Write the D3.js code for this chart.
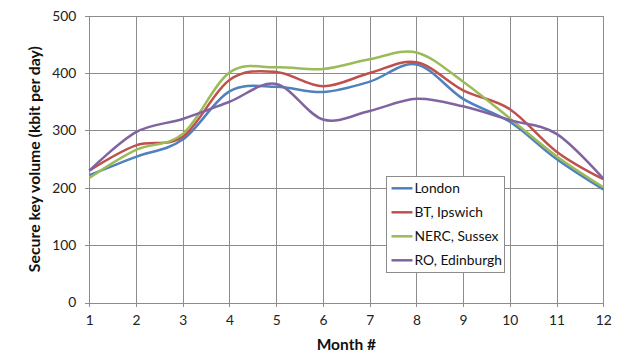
<!DOCTYPE html>
<html>
<head>
<meta charset="utf-8">
<script src="https://cdn.jsdelivr.net/npm/d3@7"></script>
<style>
  html, body { margin: 0; padding: 0; background: #fff; }
  svg { display: block; font-family: Lato, "Open Sans", sans-serif; }
</style>
</head>
<body>
<svg id="chart" width="626" height="356"></svg>
<script>
// Monthly secure key volume per node (kbit per day)
const months = [1, 2, 3, 4, 5, 6, 7, 8, 9, 10, 11, 12];
const london    = [222, 254, 284, 368, 376, 367, 385, 415, 355, 315, 250, 197];
const btIpswich = [230, 274, 289, 388, 402, 377, 400, 419, 370, 337, 263, 215];
const nercSussex = [217, 266, 294, 401, 410, 407, 424, 436, 385, 321, 255, 201];
const roEdinburgh = [230, 297, 320, 350, 381, 319, 334, 355, 342, 318, 294, 216];
const seriesNames = ["London", "BT, Ipswich", "NERC, Sussex", "RO, Edinburgh"];
const seriesColors = ["#4F81BD", "#C0504D", "#9BBB59", "#8064A2"];
const yTicks = [0, 100, 200, 300, 400, 500];

const seriesValues = [london, btIpswich, nercSussex, roEdinburgh];
const series = seriesNames.map((name, i) => ({
  name, color: seriesColors[i],
  points: months.map((m, j) => ({ m, v: seriesValues[i][j] }))
}));

const svg = d3.select("#chart");
const plot = { left: 89.3, right: 603.3, top: 15.7, bottom: 302.5 };

const x = d3.scaleLinear().domain([1, 12]).range([plot.left, plot.right]);
const y = d3.scaleLinear().domain([0, 500]).range([plot.bottom, plot.top]);
const gridColor = "#8c8c8c";

// Gridlines (with short outside tick marks)
const grid = svg.append("g").attr("shape-rendering", "crispEdges");
grid.selectAll("line.h").data(yTicks).join("line")
  .attr("x1", plot.left - 4).attr("x2", plot.right)
  .attr("y1", d => Math.round(y(d)) + 0.5).attr("y2", d => Math.round(y(d)) + 0.5)
  .attr("stroke", gridColor).attr("stroke-width", 1);
grid.selectAll("line.v").data(months).join("line")
  .attr("x1", d => Math.round(x(d)) + 0.5).attr("x2", d => Math.round(x(d)) + 0.5)
  .attr("y1", plot.top).attr("y2", plot.bottom + 4)
  .attr("stroke", gridColor).attr("stroke-width", 1);

// Axis tick labels
const yAxis = d3.axisLeft(y).tickValues(yTicks).tickSize(0).tickPadding(13);
const gy = svg.append("g").attr("transform", `translate(${plot.left},0)`).call(yAxis);
gy.select(".domain").remove();
gy.selectAll("text").attr("font-size", 13.8).attr("fill", "#222").attr("font-family", "Lato, sans-serif");

const xAxis = d3.axisBottom(x).tickValues(months).tickFormat(d3.format("d")).tickSize(0).tickPadding(13);
const gx = svg.append("g").attr("transform", `translate(0,${plot.bottom})`).call(xAxis);
gx.select(".domain").remove();
gx.selectAll("text").attr("font-size", 13.8).attr("fill", "#222").attr("font-family", "Lato, sans-serif");

// Axis titles
svg.append("text")
  .attr("transform", `translate(39.5,${(plot.top + plot.bottom) / 2}) rotate(-90)`)
  .attr("text-anchor", "middle")
  .attr("font-size", 15.8).attr("font-weight", "bold").attr("fill", "#111")
  .text("Secure key volume (kbit per day)");
svg.append("text")
  .attr("x", (plot.left + plot.right) / 2).attr("y", 349.5)
  .attr("text-anchor", "middle")
  .attr("font-size", 15.5).attr("font-weight", "bold").attr("fill", "#111")
  .text("Month #");

// Smoothed series lines
const line = d3.line()
  .x(d => x(d.m)).y(d => y(d.v))
  .curve(d3.curveCardinal.tension(0));
svg.append("g").selectAll("path").data(series).join("path")
  .attr("d", d => line(d.points))
  .attr("fill", "none")
  .attr("stroke", d => d.color)
  .attr("stroke-width", 2.5)
  .attr("stroke-linejoin", "round");

// Legend
const lg = svg.append("g");
lg.append("rect")
  .attr("x", 386.5).attr("y", 176.5).attr("width", 118).attr("height", 96)
  .attr("fill", "#fff").attr("stroke", "#8c8c8c").attr("stroke-width", 1);
const items = lg.selectAll("g.item").data(series).join("g")
  .attr("transform", (d, i) => `translate(0,${188.3 + i * 24})`);
items.append("line")
  .attr("x1", 391.5).attr("x2", 412.5)
  .attr("stroke", d => d.color).attr("stroke-width", 2.5);
items.append("text")
  .attr("x", 414.5).attr("dy", "0.35em")
  .attr("font-size", 13.8).attr("fill", "#111")
  .text(d => d.name);
</script>
</body>
</html>
